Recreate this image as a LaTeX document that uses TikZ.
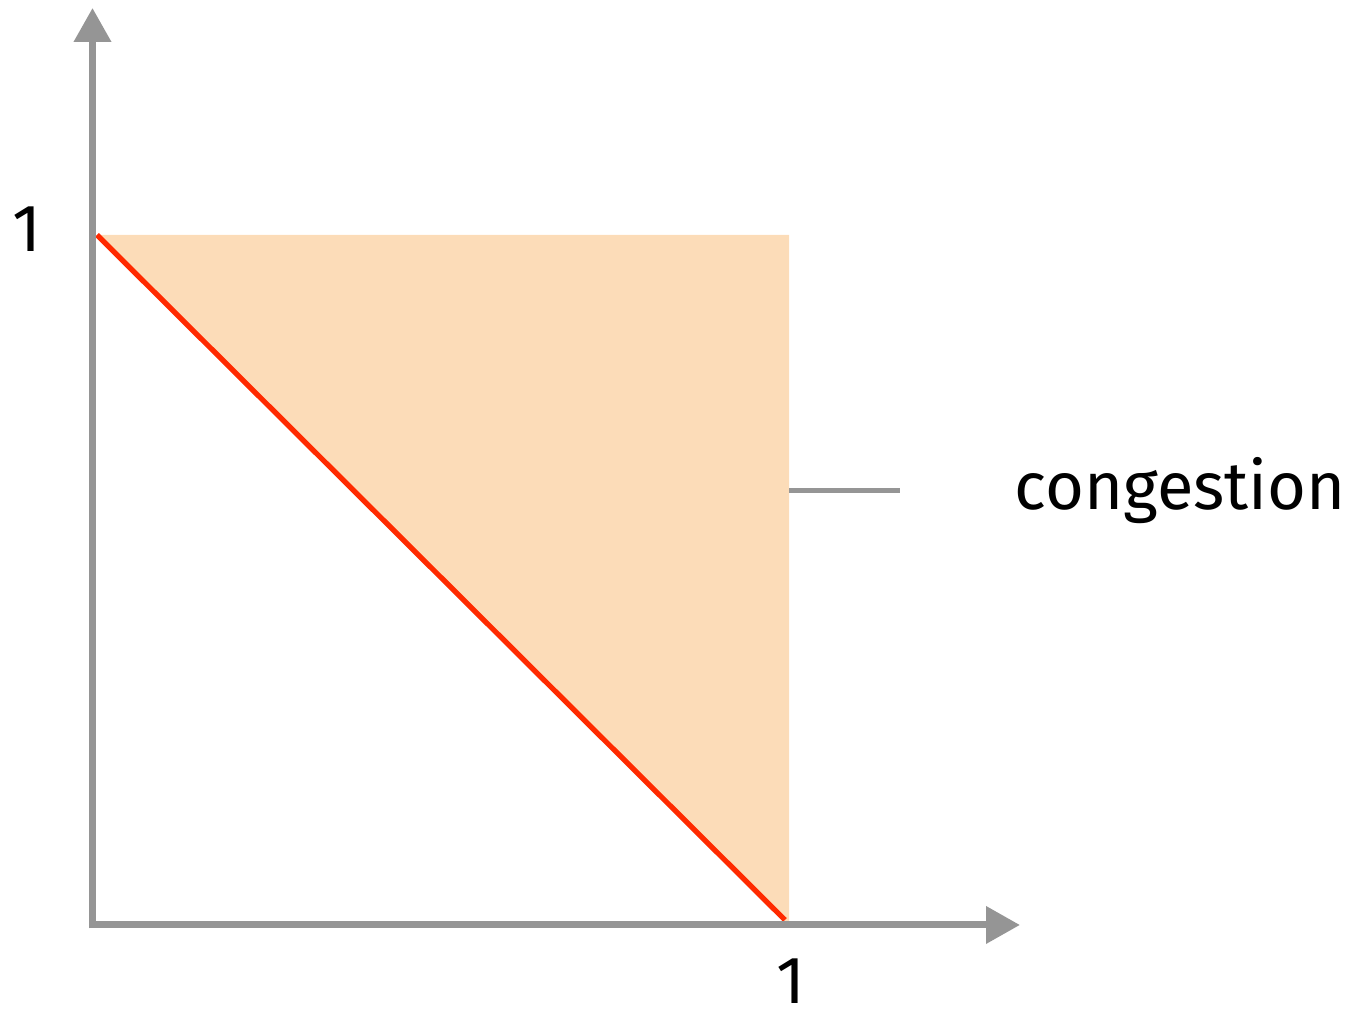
\documentclass[tikz,border=0pt]{standalone}
\usepackage{fontspec}
\setmainfont{Fira Sans}
\usepackage{xcolor}
\usetikzlibrary{arrows.meta, positioning}

\definecolor{axisgray}{HTML}{959595}
\definecolor{congfill}{HTML}{FCDCB8}
\definecolor{limitred}{HTML}{FF2A00}

\begin{document}
\begin{tikzpicture}[
  axis/.style={draw=axisgray, line width=2pt, -{Triangle[length=0.34cm, width=0.36cm]}},
  region/.style={fill=congfill, draw=none},
  limit/.style={draw=limitred, line width=1.5pt},
  leader/.style={draw=axisgray, line width=1.4pt},
  lbl/.style={font=\fontsize{19}{22}\selectfont, inner sep=0pt}
]
  \useasboundingbox (0,0) rectangle (13.67,10.14);

  \coordinate (orig) at (0.925,0.89);
  \coordinate (ytip) at (0.925,10.06);
  \coordinate (xtip) at (10.20,0.89);
  \coordinate (topl) at (0.97,7.79);
  \coordinate (topr) at (7.89,7.79);
  \coordinate (botr) at (7.89,0.93);

  % congestion region
  \fill[region] (topl) -- (topr) -- (botr) -- (7.85,0.93) -- cycle;
  \draw[limit] (topl) -- (7.85,0.94);

  % axes
  \draw[axis] (0.925,0.855) -- (ytip);
  \draw[axis] (0.89,0.89) -- (xtip);

  \node[lbl] (yone) at (0.27,7.85) {1};
  \node[lbl] (xone) at (7.91,0.33) {1};

  \coordinate (cmid) at (7.89,5.235);
  \node[lbl, anchor=west] (cong) at (10.14,5.235) {congestion};
  \draw[leader] (cmid) -- (9.00,5.235);
\end{tikzpicture}
\end{document}
